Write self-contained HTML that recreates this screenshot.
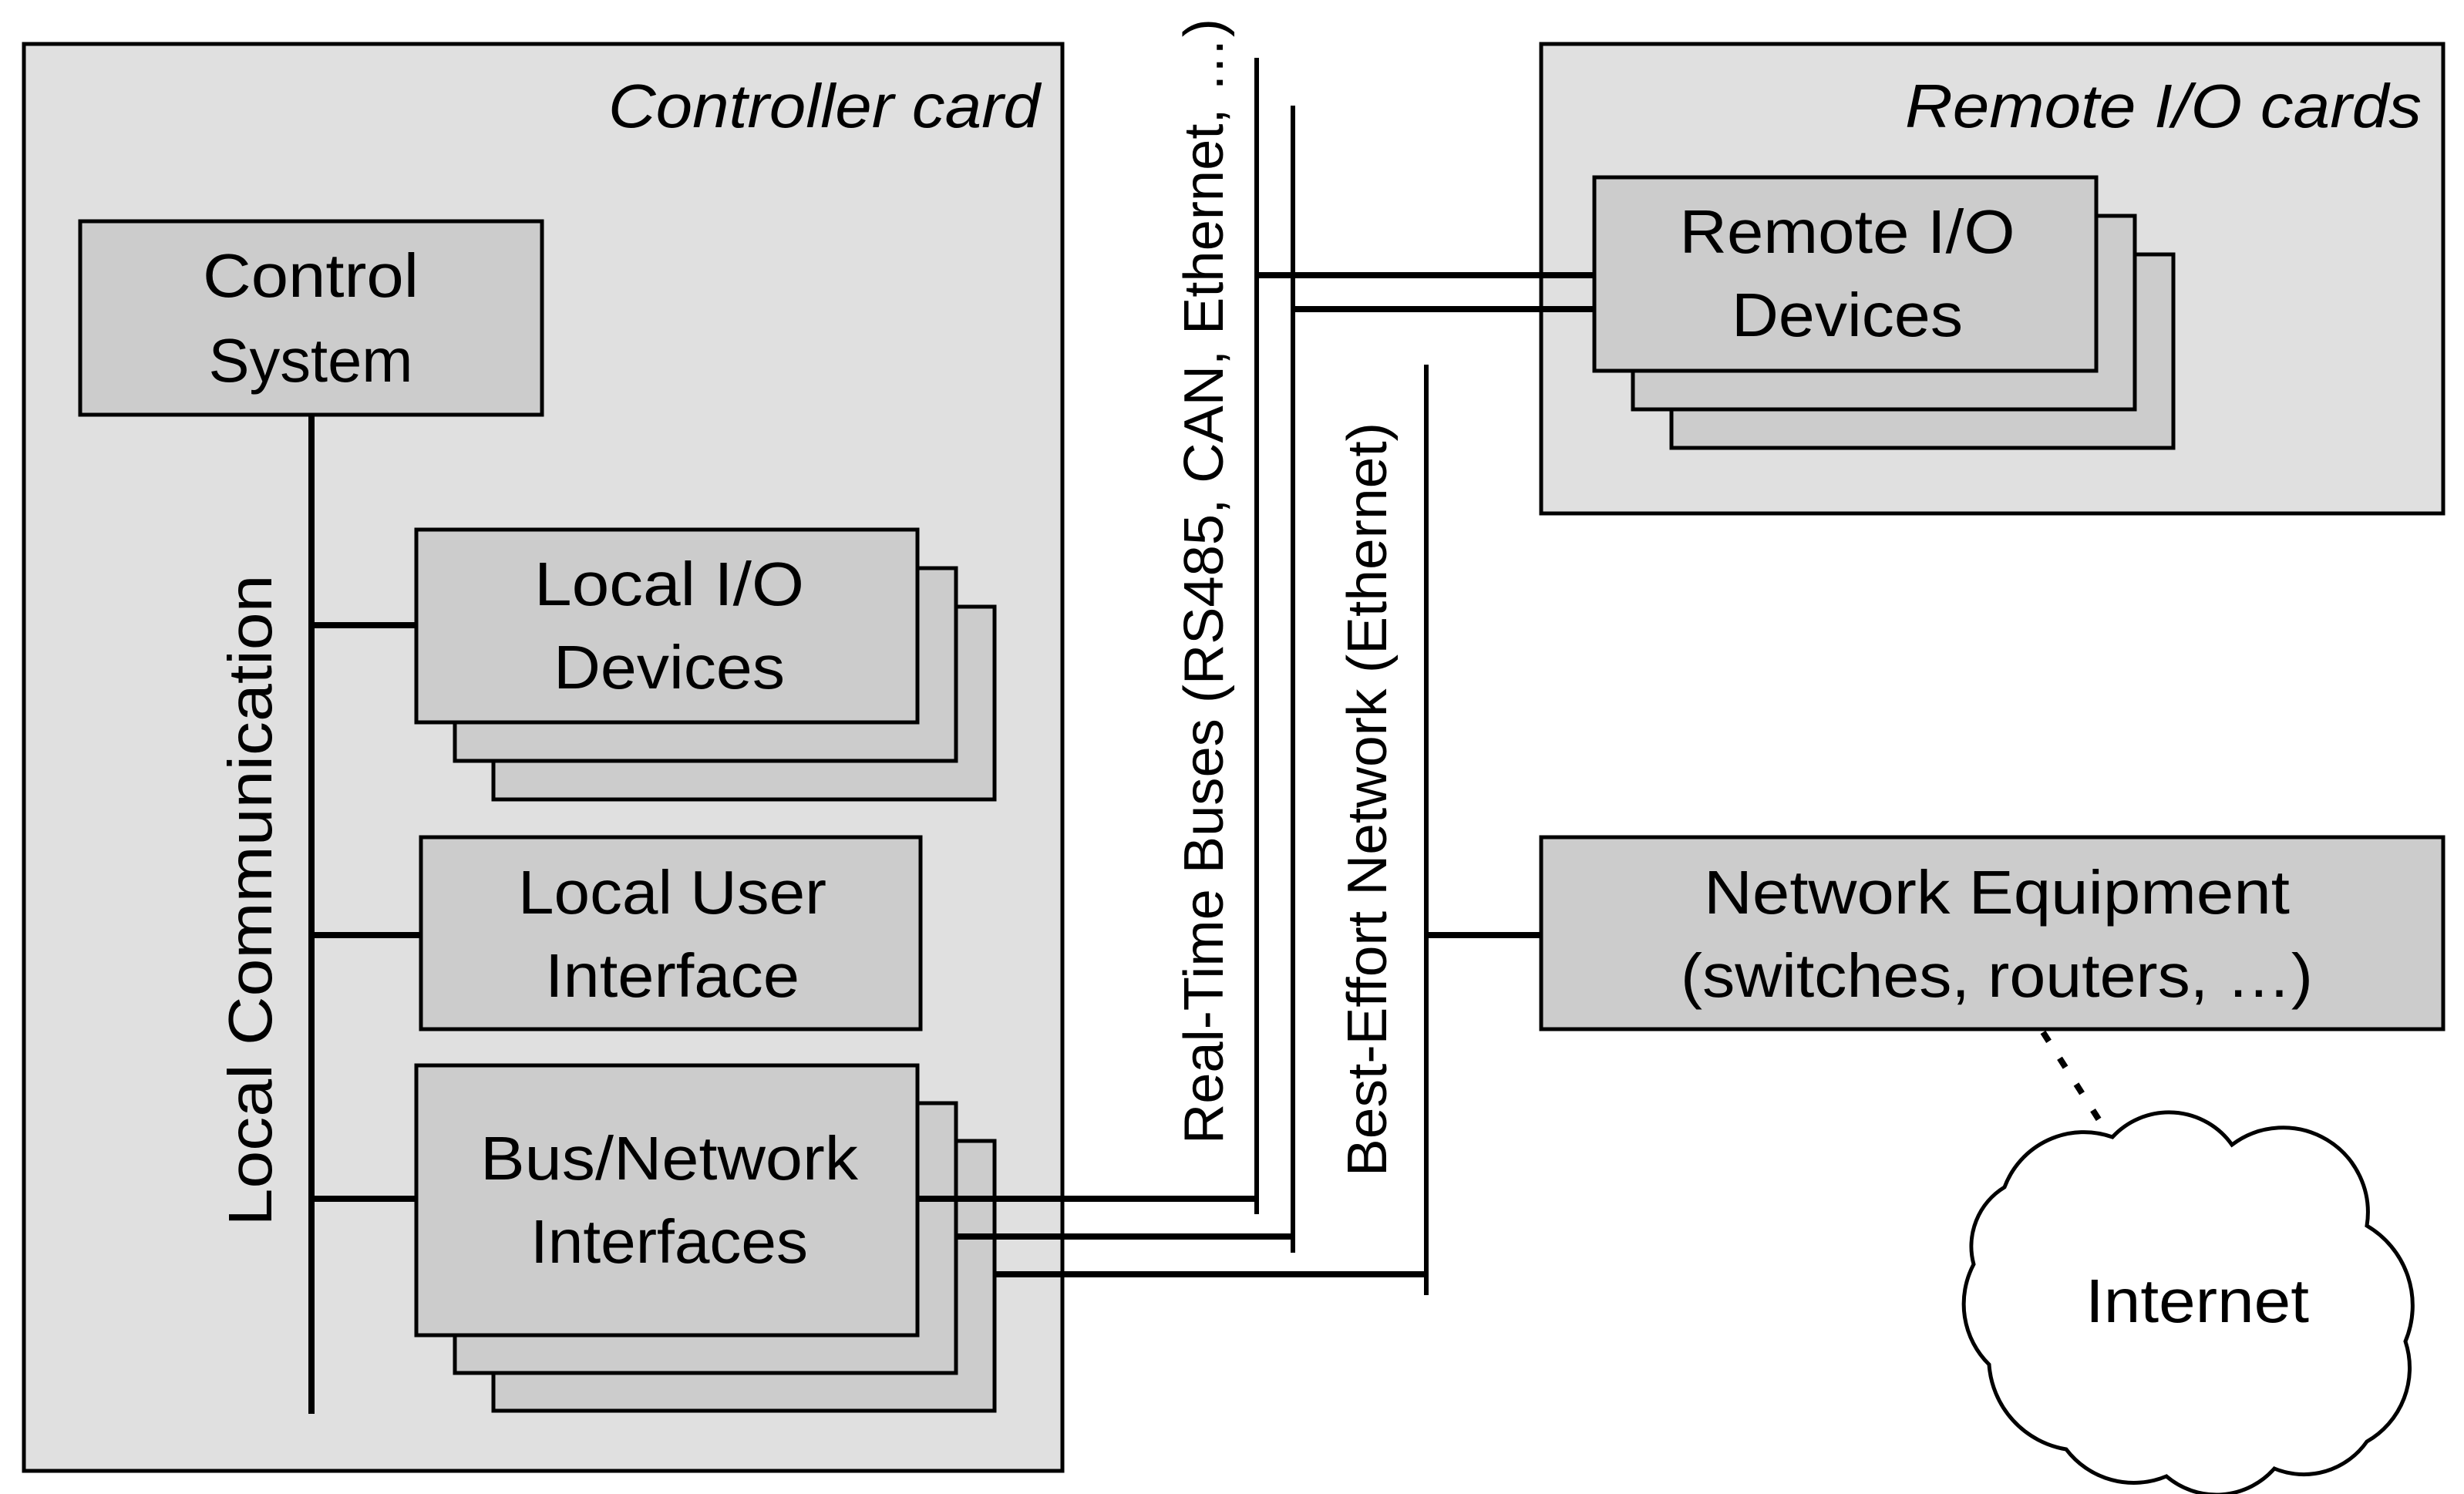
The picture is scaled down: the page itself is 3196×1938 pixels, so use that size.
<!DOCTYPE html>
<html><head><meta charset="utf-8"><style>html,body{margin:0;padding:0;background:#fff}svg{display:block}</style></head>
<body>
<svg width="3196" height="1938" viewBox="0 0 3196 1938" xmlns="http://www.w3.org/2000/svg" font-family="Liberation Sans, sans-serif">
<g stroke="#000" stroke-width="5">
<rect x="31" y="57" width="1347" height="1851" fill="#e0e0e0"/>
<rect x="1999" y="57" width="1170" height="609" fill="#e0e0e0"/>
<rect x="104" y="287" width="599" height="251" fill="#cccccc"/>
<rect x="640" y="787" width="650" height="250" fill="#cccccc"/>
<rect x="590" y="737" width="650" height="250" fill="#cccccc"/>
<rect x="540" y="687" width="650" height="250" fill="#cccccc"/>
<rect x="546" y="1086" width="648" height="249" fill="#cccccc"/>
<rect x="640" y="1480" width="650" height="350" fill="#cccccc"/>
<rect x="590" y="1431" width="650" height="350" fill="#cccccc"/>
<rect x="540" y="1382" width="650" height="350" fill="#cccccc"/>
<rect x="2168" y="330" width="651" height="251" fill="#cccccc"/>
<rect x="2118" y="280" width="651" height="251" fill="#cccccc"/>
<rect x="2068" y="230" width="651" height="251" fill="#cccccc"/>
<rect x="1999" y="1086" width="1170" height="249" fill="#cccccc"/>
</g>
<g stroke="#000" stroke-width="8" fill="none">
<line x1="404" y1="538" x2="404" y2="1834"/>
<line x1="404" y1="811" x2="540" y2="811"/>
<line x1="404" y1="1213" x2="546" y2="1213"/>
<line x1="404" y1="1555" x2="540" y2="1555"/>
<line x1="1190" y1="1555" x2="1630" y2="1555"/>
<line x1="1240" y1="1604" x2="1677" y2="1604"/>
<line x1="1290" y1="1653" x2="1850" y2="1653"/>
<line x1="1630" y1="357" x2="2068" y2="357"/>
<line x1="1677" y1="401" x2="2068" y2="401"/>
<line x1="1850" y1="1213" x2="1999" y2="1213"/>
</g>
<g stroke="#000" stroke-width="6" fill="none">
<line x1="1630" y1="75" x2="1630" y2="1575"/>
<line x1="1677" y1="137" x2="1677" y2="1625"/>
<line x1="1850" y1="473" x2="1850" y2="1680"/>
<line x1="2650" y1="1339" x2="2740" y2="1480" stroke-width="8" stroke-dasharray="14 26"/>
</g>
<path d="M2600 1540 A110 110 0 0 1 2740 1475 A100 100 0 0 1 2895 1485 A110 110 0 0 1 3070 1590 A120 120 0 0 1 3120 1740 A110 110 0 0 1 3070 1870 A100 100 0 0 1 2950 1905 A100 100 0 0 1 2810 1915 A110 110 0 0 1 2680 1880 A120 120 0 0 1 2580 1770 A110 110 0 0 1 2560 1640 A90 90 0 0 1 2600 1540 Z" fill="#fff" stroke="#000" stroke-width="5"/>
<g font-size="80" fill="#000" text-anchor="middle">
<text x="1349" y="165" text-anchor="end" font-style="italic" textLength="560" lengthAdjust="spacingAndGlyphs">Controller card</text>
<text x="3141" y="165" text-anchor="end" font-style="italic" textLength="670" lengthAdjust="spacingAndGlyphs">Remote I/O cards</text>
<text x="403" y="385" textLength="280" lengthAdjust="spacingAndGlyphs">Control</text>
<text x="403" y="495" textLength="265" lengthAdjust="spacingAndGlyphs">System</text>
<text x="868" y="785" textLength="350" lengthAdjust="spacingAndGlyphs">Local I/O</text>
<text x="868" y="893" textLength="300" lengthAdjust="spacingAndGlyphs">Devices</text>
<text x="872" y="1185" textLength="400" lengthAdjust="spacingAndGlyphs">Local User</text>
<text x="872" y="1293" textLength="330" lengthAdjust="spacingAndGlyphs">Interface</text>
<text x="868" y="1530" textLength="490" lengthAdjust="spacingAndGlyphs">Bus/Network</text>
<text x="868" y="1638" textLength="360" lengthAdjust="spacingAndGlyphs">Interfaces</text>
<text x="2396" y="328" textLength="435" lengthAdjust="spacingAndGlyphs">Remote I/O</text>
<text x="2396" y="436" textLength="300" lengthAdjust="spacingAndGlyphs">Devices</text>
<text x="2590" y="1185" textLength="760" lengthAdjust="spacingAndGlyphs">Network Equipment</text>
<text x="2590" y="1293" textLength="820" lengthAdjust="spacingAndGlyphs">(switches, routers, …)</text>
<text x="2850" y="1715" textLength="290" lengthAdjust="spacingAndGlyphs">Internet</text>
<text transform="translate(352 1168) rotate(-90)" textLength="845" lengthAdjust="spacingAndGlyphs">Local Communication</text>
<text transform="translate(1586 754) rotate(-90)" font-size="72" textLength="1460" lengthAdjust="spacingAndGlyphs">Real-Time Buses (RS485, CAN, Ethernet, …)</text>
<text transform="translate(1798 1037) rotate(-90)" font-size="72" textLength="978" lengthAdjust="spacingAndGlyphs">Best-Effort Network (Ethernet)</text>
</g>
</svg>
</body></html>
